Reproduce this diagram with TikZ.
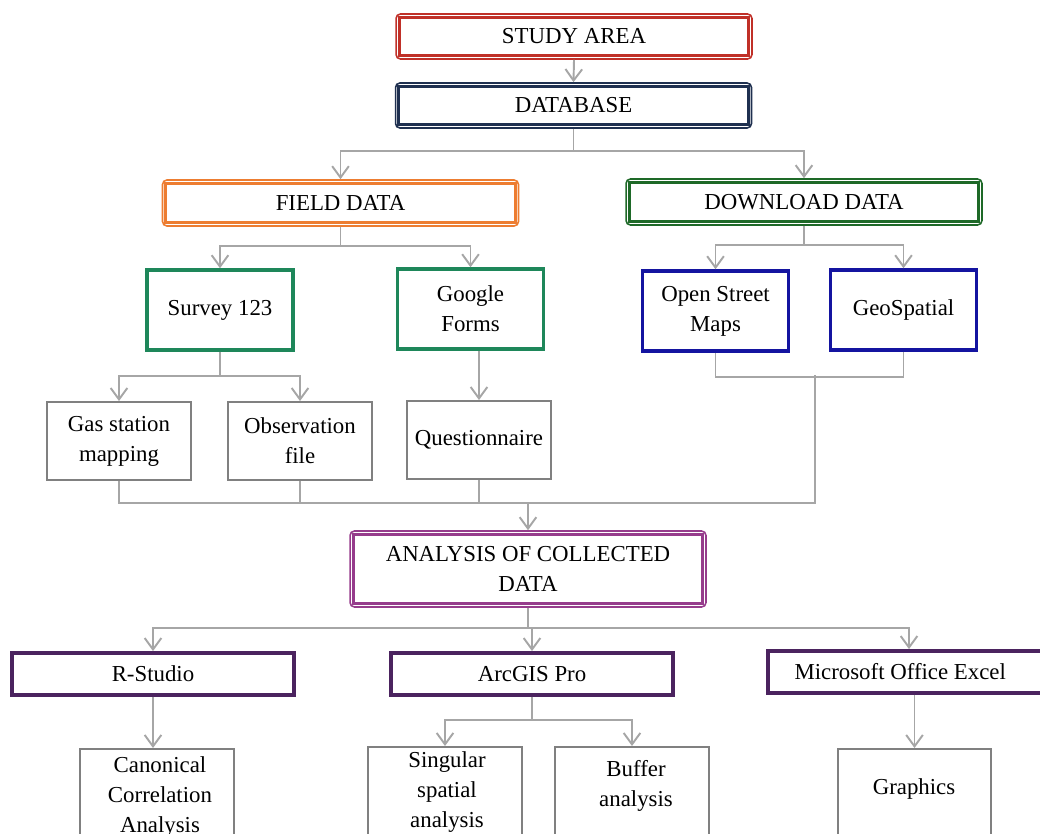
\documentclass[tikz,border=0pt]{standalone}
\usepackage{fontspec}
\setmainfont{Liberation Serif}
\usetikzlibrary{arrows.meta}

\definecolor{studyred}{RGB}{192,48,40}
\definecolor{dbnavy}{RGB}{31,48,80}
\definecolor{fieldorange}{RGB}{237,125,49}
\definecolor{dlgreen}{RGB}{30,105,40}
\definecolor{srvgreen}{RGB}{30,135,90}
\definecolor{srcblue}{RGB}{20,20,160}
\definecolor{anamagenta}{RGB}{150,60,140}
\definecolor{toolpurple}{RGB}{75,35,95}
\definecolor{boxgray}{RGB}{128,128,128}
\definecolor{linegray}{RGB}{166,166,166}

\tikzset{
	txt/.style={font=\fontsize{13}{17}\selectfont, align=center, inner sep=0pt},
	dbox/.style={txt, draw=#1, line width=0.9pt, rounded corners=2.5pt,
		minimum width=7.12cm, minimum height=0.9cm},
	sbox/.style={txt, draw=#1, line width=2pt,
		minimum width=2.92cm, minimum height=1.6cm},
	gbox/.style={txt, draw=boxgray, line width=1.1pt,
		minimum width=2.88cm, minimum height=1.56cm},
	tbox/.style={txt, draw=toolpurple, line width=2.2pt,
		minimum width=5.64cm, minimum height=0.84cm},
	line/.style={draw=linegray, line width=1.1pt},
	link/.style={line, -{Straight Barb[length=6.5pt,width=9.5pt]}}
}

\begin{document}
\begin{tikzpicture}[x=0.02cm, y=-0.02cm]
	\useasboundingbox (0,0) rectangle (1040,834);
	\clip (0,0) rectangle (1040,834);

	% main steps
	\node[dbox=studyred] (study) at (574,36.5) {STUDY AREA};
	\draw[studyred, line width=1.8pt] ([shift={(4,4)}]study.north west)
		rectangle ([shift={(-4,-4)}]study.south east);
	\node[dbox=dbnavy] (database) at (573.5,105.5) {DATABASE};
	\draw[dbnavy, line width=1.8pt] ([shift={(4,4)}]database.north west)
		rectangle ([shift={(-4,-4)}]database.south east);

	\node[dbox=fieldorange, minimum height=0.92cm] (field) at (340.5,203) {FIELD DATA};
	\draw[fieldorange, line width=1.8pt] ([shift={(4,4)}]field.north west)
		rectangle ([shift={(-4,-4)}]field.south east);
	\node[dbox=dlgreen, minimum height=0.92cm] (download) at (804,202) {DOWNLOAD DATA};
	\draw[dlgreen, line width=1.8pt] ([shift={(4,4)}]download.north west)
		rectangle ([shift={(-4,-4)}]download.south east);

	% sources
	\node[sbox=srvgreen] (survey) at (220,310) {Survey 123};
	\node[sbox=srvgreen] (google) at (470.5,309) {Google\\Forms};
	\node[sbox=srcblue] (osm) at (715.5,311) {Open Street\\Maps};
	\node[sbox=srcblue] (geo) at (903.5,310) {GeoSpatial};

	\node[gbox] (gas) at (119,441) {Gas station\\mapping};
	\node[gbox] (obs) at (300,441) {Observation\\file};
	\node[gbox] (quest) at (479,440) {Questionnaire};

	% analysis
	\node[dbox=anamagenta, minimum height=1.52cm] (analysis) at (528,569)
		{ANALYSIS OF COLLECTED\\DATA};
	\draw[anamagenta, line width=1.8pt] ([shift={(4,4)}]analysis.north west)
		rectangle ([shift={(-4,-4)}]analysis.south east);

	% tools
	\node[tbox] (rstudio) at (153,674) {R-Studio};
	\node[tbox] (arcgis) at (532,674) {ArcGIS Pro};
	\node[tbox] (excel) at (909,672) {\hspace*{-10pt}Microsoft Office Excel};

	\node[gbox, anchor=north, minimum width=3.08cm, minimum height=2.4cm] (canon) at (157,748) {};
	\node[txt] (canon-t) at (160,797) {Canonical\\Correlation\\Analysis};
	\node[gbox, anchor=north, minimum width=3.08cm, minimum height=2.4cm] (single) at (445,746) {};
	\node[txt] (single-t) at (447,792) {Singular\\spatial\\analysis};
	\node[gbox, anchor=north, minimum width=3.08cm, minimum height=2.4cm] (buffer) at (632,746) {};
	\node[txt] (buffer-t) at (636,785.5) {Buffer\\analysis};
	\node[gbox, anchor=north, minimum width=3.06cm, minimum height=2.4cm] (graphics) at (914.5,748) {};
	\node[txt] (graphics-t) at (914,789) {Graphics};

	% connectors
	\draw[link] (study.south) -- (database.north);
	\draw[link] (database.south) -- ++(0,22) -| (field.north);
	\draw[link] (database.south) -- ++(0,22) -| (download.north);

	\draw[link] (field.south) -- ++(0,19) -| (survey.north);
	\draw[link] (field.south) -- ++(0,19) -| (google.north);
	\draw[link] (download.south) -- ++(0,19) -| (osm.north);
	\draw[link] (download.south) -- ++(0,19) -| (geo.north);

	\draw[link] (survey.south) -- ++(0,24) -| (gas.north);
	\draw[link] (survey.south) -- ++(0,24) -| (obs.north);
	\draw[link] (quest.north |- google.south) -- (quest.north);

	\coordinate (join) at (815,375);
	\coordinate (bus) at (815,503);
	\draw[line] (osm.south) -- ++(0,24) -| (geo.south);
	\draw[line] (join) -- (bus) -| (gas.south);
	\draw[line] (obs.south) -- (obs.south |- bus);
	\draw[line] (quest.south) -- (quest.south |- bus);
	\draw[link] (analysis.north |- bus) -- (analysis.north);

	\draw[link] (analysis.south) -- ++(0,20) -| (rstudio.north);
	\draw[link] (analysis.south) -- ++(0,20) -| (excel.north);
	\draw[link] (analysis.south) -- ++(0,20) -| (arcgis.north);

	\draw[link] (rstudio.south) -- (rstudio.south |- canon.north);
	\draw[link] (arcgis.south) -- ++(0,23) -| (single.north);
	\draw[link] (arcgis.south) -- ++(0,23) -| (buffer.north);
	\draw[link] (graphics.north |- excel.south) -- (graphics.north);
\end{tikzpicture}
\end{document}
